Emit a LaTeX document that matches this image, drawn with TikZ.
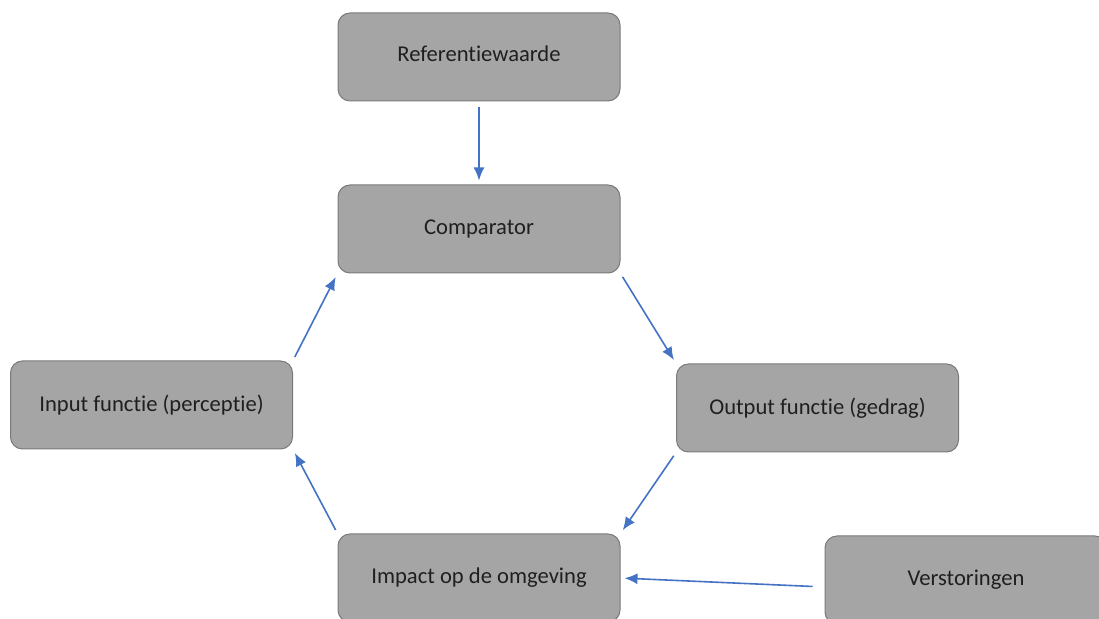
\documentclass[tikz,border=0pt]{standalone}
\usepackage{fontspec}
\setmainfont[Ligatures={NoCommon}]{Carlito}
\usetikzlibrary{arrows.meta}
\definecolor{blokgrijs}{HTML}{A5A5A5}
\definecolor{randgrijs}{HTML}{7A7A7A}
\definecolor{pijlblauw}{HTML}{4472C4}
\begin{document}
\begin{tikzpicture}[x=0.5pt,y=-0.5pt,
   blok/.style={draw=randgrijs,line width=0.5pt,fill=blokgrijs,rounded corners=6pt,
      minimum width=141pt,minimum height=44pt,inner sep=0pt,
      text=black!88,font=\fontsize{11.3}{13.5}\selectfont},
   pijl/.style={draw=pijlblauw,line width=0.8pt,-{Latex[length=6.5pt,width=5.5pt]},
      shorten <=2pt,shorten >=2pt}]
\useasboundingbox (0,0) rectangle (1099,619);
\node[blok] (ref) at (479,57) {\raisebox{3pt}{Referentiewaarde}};
\node[blok] (comp) at (479,229) {Comparator};
\node[blok] (inp) at (151.5,405) {Input functie (perceptie)};
\node[blok] (outp) at (817.5,408) {Output functie (gedrag)};
\node[blok] (imp) at (479,578) {Impact op de omgeving};
\node[blok] (verst) at (966,580) {Verstoringen};
\draw[pijl,shorten <=3pt] (ref) -- (comp);
\draw[pijl] (comp.south east) -- (outp.north west);
\draw[pijl] (outp.south west) -- (imp.north east);
\draw[pijl] (imp.north west) -- (inp.south east);
\draw[pijl] (inp.north east) -- (comp.south west);
\draw[pijl,shorten <=6pt] ([yshift=-3.5pt]verst.west) -- (imp.east);
\end{tikzpicture}
\end{document}
